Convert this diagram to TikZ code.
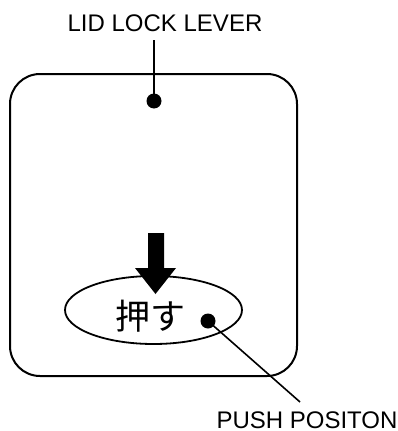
\documentclass[tikz,border=0pt]{standalone}
\usepackage{fontspec}
\usetikzlibrary{shapes.geometric}
\setmainfont{Liberation Sans}
\newfontfamily\cjk{Noto Sans CJK JP}
\begin{document}
\begin{tikzpicture}[x=1pt,y=-1pt,
  lbl/.style={inner sep=0pt,font=\fontsize{24}{28}\selectfont},
  pin/.style={circle,fill=black,inner sep=0pt,minimum size=15pt},
  leader/.style={line width=1.6pt}]
\useasboundingbox (0,0) rectangle (398,431);
\draw[line width=2pt,rounded corners=30pt] (10,74) rectangle (297,376);
\node[lbl] (lid) at (165,23) {LID LOCK LEVER};
\node[pin] (d1) at (154,101) {};
\coordinate (l1) at (154,40);
\draw[leader] (l1) -- (d1.center);
\node[draw,line width=1.8pt,ellipse,minimum width=177pt,minimum height=68pt,inner sep=0pt] (ell) at (153.5,310) {};
\node[inner sep=0pt,font=\cjk\fontsize{35}{40}\selectfont] (push) at (150,316) {押す};
\fill (148,233) -- (164,233) -- (164,268) -- (176,268) -- (155.5,294) -- (135,268) -- (148,268) -- cycle;
\node[pin] (d2) at (208,321) {};
\coordinate (l2) at (300,402);
\draw[leader] (d2.center) -- (l2);
\node[lbl] (pp) at (307,420.5) {PUSH POSITON};
\end{tikzpicture}
\end{document}
